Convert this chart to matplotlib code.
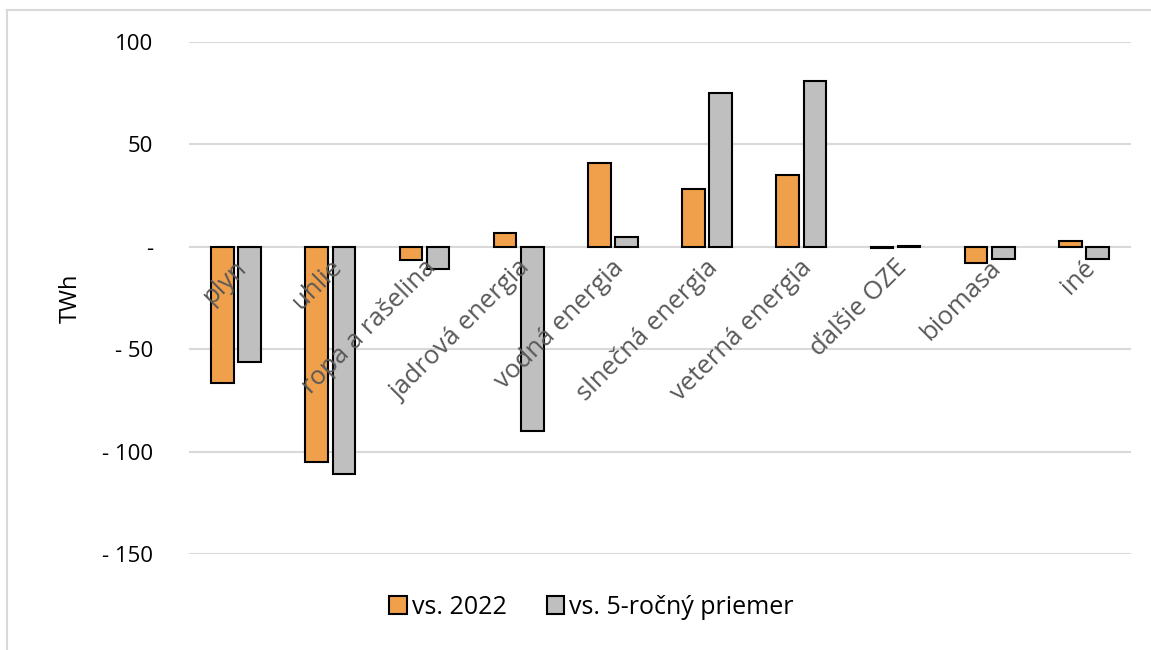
import numpy as np
import matplotlib.pyplot as plt
from matplotlib.lines import Line2D

categories = ["plyn", "uhlie", "ropa a rašelina", "jadrová energia", "vodná energia",
              "slnečná energia", "veterná energia", "ďalšie OZE", "biomasa", "iné"]
vs_2022 = [-66.5, -105, -6.3, 6.8, 41, 28.3, 35.2, -0.4, -7.8, 2.9]
vs_5yr = [-56.2, -110.8, -10.7, -89.8, 4.9, 75.2, 81, 0.4, -5.9, -5.9]
yticks = [100, 50, 0, -50, -100, -150]
ytick_labels = ["100", "50", "-", "- 50", "- 100", "- 150"]

plt.rcParams["font.family"] = ["Open Sans", "DejaVu Sans"]

fig = plt.figure(figsize=(11.51, 6.5), dpi=100)
ax = fig.add_axes([189 / 1151, 1 - 554 / 650, (1131 - 189) / 1151, (554 - 42) / 650])

# light chart-area border (only top and left are visible in the crop)
fig.lines.append(Line2D([7.5 / 1151, 7.5 / 1151], [0, 1 - 10 / 650], transform=fig.transFigure,
                        color="#d9d9d9", linewidth=1.5))
fig.lines.append(Line2D([7.5 / 1151, 1], [1 - 10 / 650, 1 - 10 / 650], transform=fig.transFigure,
                        color="#d9d9d9", linewidth=1.5))

x = np.arange(len(categories))
w = 0.239
off = 0.1445
ax.bar(x - off, vs_2022, w, color="#f0a04b", edgecolor="black", linewidth=1.5,
       label="vs. 2022", zorder=3)
ax.bar(x + off, vs_5yr, w, color="#bfbfbf", edgecolor="black", linewidth=1.5,
       label="vs. 5-ročný priemer", zorder=3)

ax.set_xlim(-0.5, len(categories) - 0.5)
ax.set_ylim(-150, 100)
ax.set_yticks(yticks)
ax.set_yticklabels(ytick_labels, fontsize=16, color="#000000")
ax.tick_params(axis="y", length=0, pad=26)
ax.set_xticks([])
ax.grid(axis="y", color="#d9d9d9", linewidth=1.5, zorder=0)
for s in ax.spines.values():
    s.set_visible(False)

ax.set_ylabel("TWh", fontsize=17, labelpad=14)

for i, name in enumerate(categories):
    ax.annotate(name, xy=(i, 0), xytext=(-1, -6), textcoords="offset points",
                rotation=45, rotation_mode="anchor", ha="right", va="top",
                fontsize=18.5, color="#595959", zorder=4)

fig.legend(loc="lower center", bbox_to_anchor=(0.514, 0.012), ncol=2, frameon=False,
           fontsize=18, handlelength=0.7, handleheight=0.7, handletextpad=0.2,
           columnspacing=1.6)

fig.savefig("out.png", dpi=100)
